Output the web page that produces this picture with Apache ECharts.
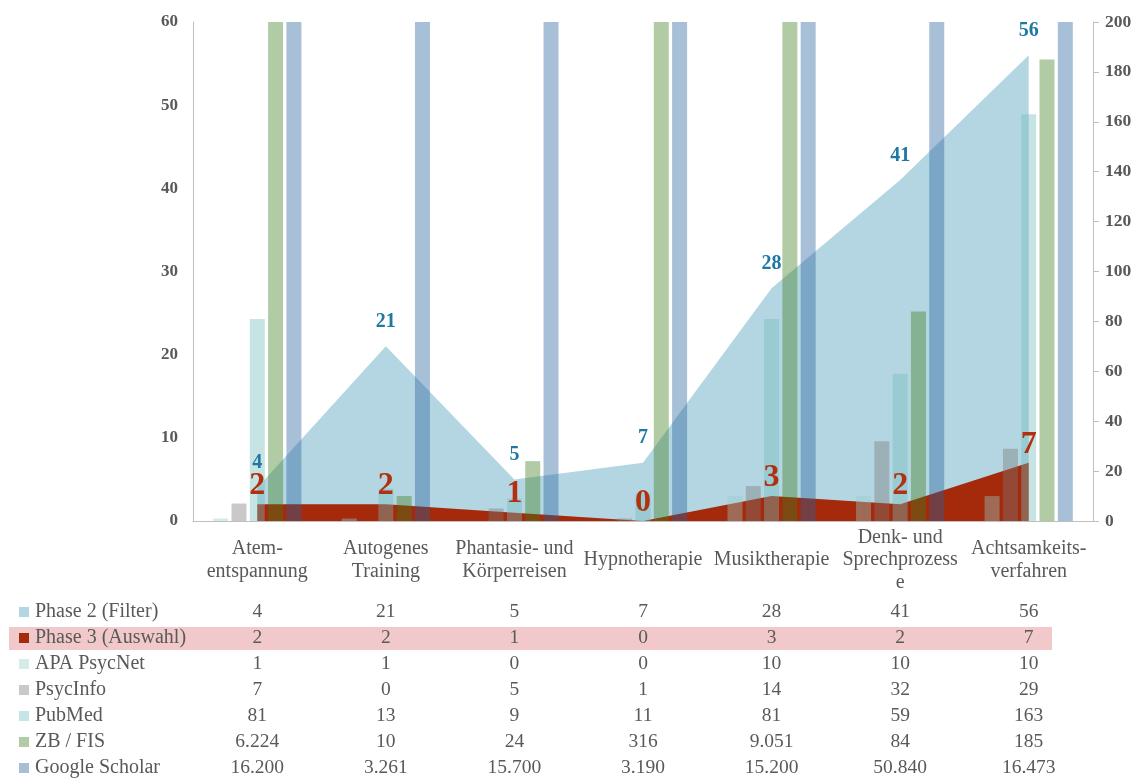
<!DOCTYPE html>
<html>
<head>
<meta charset="utf-8">
<script src="https://cdn.jsdelivr.net/npm/echarts@6/dist/echarts.min.js"></script>
<style>html,body{margin:0;padding:0;background:#fff;}#c{width:1140px;height:778px;}</style>
</head>
<body>
<div id="c"></div>
<script>
const categories = ['Atem-\nentspannung', 'Autogenes\nTraining', 'Phantasie- und\nKörperreisen', 'Hypnotherapie', 'Musiktherapie', 'Denk- und\nSprechprozess\ne', 'Achtsamkeits-\nverfahren'];
const phase2 = [4, 21, 5, 7, 28, 41, 56];
const phase3 = [2, 2, 1, 0, 3, 2, 7];
const apaPsycNet = [1, 1, 0, 0, 10, 10, 10];
const psycInfo = [7, 0, 5, 1, 14, 32, 29];
const pubMed = [81, 13, 9, 11, 81, 59, 163];
const zbFis = [6224, 10, 24, 316, 9051, 84, 185];
const googleScholar = [16200, 3261, 15700, 3190, 15200, 50840, 16473];
const leftTicks = { min: 0, max: 60, interval: 10 };
const rightTicks = { min: 0, max: 200, interval: 20 };
const seriesNames = ['Phase 2 (Filter)', 'Phase 3 (Auswahl)', 'APA PsycNet', 'PsycInfo', 'PubMed', 'ZB / FIS', 'Google Scholar'];

const FONT = "'Liberation Serif', 'Times New Roman', serif";
const GRAY = '#595959';
const AXIS = '#bfbfbf';
const fmt = v => String(v).replace(/\B(?=(\d{3})+(?!\d))/g, '.');

const tableRows = [phase2, phase3, apaPsycNet, psycInfo, pubMed, zbFis, googleScholar];
const tableAxes = tableRows.map((row, i) => ({
  type: 'category',
  gridIndex: 0,
  position: 'bottom',
  offset: 91 + 26 * i,
  data: row.map(fmt),
  axisLine: { show: false },
  axisTick: { show: false },
  splitLine: { show: false },
  axisLabel: { interval: 0, margin: 0, verticalAlign: 'middle', fontSize: 19.5, color: GRAY, fontFamily: FONT }
}));

const barColors = {
  'APA PsycNet': 'rgba(150,205,202,0.4)',
  'PsycInfo': 'rgba(120,120,120,0.4)',
  'PubMed': 'rgba(112,187,187,0.4)',
  'ZB / FIS': 'rgba(60,125,30,0.4)',
  'Google Scholar': 'rgba(37,95,157,0.4)'
};
const barData = { 'APA PsycNet': apaPsycNet, 'PsycInfo': psycInfo, 'PubMed': pubMed, 'ZB / FIS': zbFis, 'Google Scholar': googleScholar };
const barSeries = Object.keys(barData).map(name => ({
  name, type: 'bar', xAxisIndex: 0, yAxisIndex: 1, data: barData[name],
  barWidth: 15, barGap: '22%', z: 3, clip: true,
  itemStyle: { color: barColors[name] }
}));

const chart = echarts.init(document.getElementById('c'));
chart.setOption({
  animation: false,
  graphic: {
    z: -10,
    elements: [{ type: 'rect', z: -10, shape: { x: 9, y: 627, width: 1043, height: 23 }, style: { fill: '#f2c9ca' } }]
  },
  legend: {
    data: seriesNames,
    orient: 'vertical', left: 19, top: 602, height: 220, padding: 0,
    icon: 'rect', itemWidth: 10, itemHeight: 10, itemGap: 6,
    selectedMode: false,
    textStyle: { fontSize: 20, color: GRAY, fontFamily: FONT, padding: [0, 0, 0, 1] }
  },
  grid: { left: 193, right: 47, top: 22, bottom: 256, containLabel: false },
  xAxis: [{
    type: 'category', data: categories, gridIndex: 0, position: 'bottom',
    axisLine: { show: true, lineStyle: { color: AXIS } },
    axisTick: { show: false },
    axisLabel: { interval: 0, margin: 39, verticalAlign: 'middle', lineHeight: 22.5, fontSize: 20, color: GRAY, fontFamily: FONT }
  }].concat(tableAxes),
  yAxis: [{
    type: 'value', position: 'left', min: leftTicks.min, max: leftTicks.max, interval: leftTicks.interval,
    axisLine: { show: true, lineStyle: { color: AXIS } },
    axisTick: { show: false }, splitLine: { show: false },
    axisLabel: { margin: 15, fontSize: 17, fontWeight: 'bold', color: GRAY, fontFamily: FONT }
  }, {
    type: 'value', position: 'right', min: rightTicks.min, max: rightTicks.max, interval: rightTicks.interval,
    axisLine: { show: true, lineStyle: { color: AXIS } },
    axisTick: { show: true, length: 6, lineStyle: { color: AXIS } }, splitLine: { show: false },
    axisLabel: { margin: 12, fontSize: 17.5, fontWeight: 'bold', color: GRAY, fontFamily: FONT }
  }],
  series: [{
    name: 'Phase 2 (Filter)', type: 'line', xAxisIndex: 0, yAxisIndex: 0, data: phase2,
    symbol: 'none', z: 1, lineStyle: { width: 0 },
    itemStyle: { color: '#b4d6e2' }, areaStyle: { color: '#b4d6e2', opacity: 1 }
  }, {
    name: 'Phase 3 (Auswahl)', type: 'line', xAxisIndex: 0, yAxisIndex: 0, data: phase3,
    symbol: 'none', z: 2, lineStyle: { width: 0 },
    itemStyle: { color: '#a52a0b' }, areaStyle: { color: '#a52a0b', opacity: 1 }
  }].concat(barSeries).concat([{
    name: 'lbl-phase2', type: 'line', xAxisIndex: 0, yAxisIndex: 0, data: phase2, silent: true,
    symbol: 'circle', symbolSize: 1, z: 10, lineStyle: { opacity: 0, width: 0 },
    itemStyle: { color: 'rgba(0,0,0,0)' },
    label: { show: true, position: 'top', distance: 14, color: '#1f78a2', fontWeight: 'bold', fontSize: 20, fontFamily: FONT }
  }, {
    name: 'lbl-phase3', type: 'line', xAxisIndex: 0, yAxisIndex: 0, data: phase3, silent: true,
    symbol: 'circle', symbolSize: 1, z: 10, lineStyle: { opacity: 0, width: 0 },
    itemStyle: { color: 'rgba(0,0,0,0)' },
    label: { show: true, position: 'top', distance: 2, color: '#b0300f', fontWeight: 'bold', fontSize: 32, fontFamily: FONT }
  }])
});
</script>
</body>
</html>
